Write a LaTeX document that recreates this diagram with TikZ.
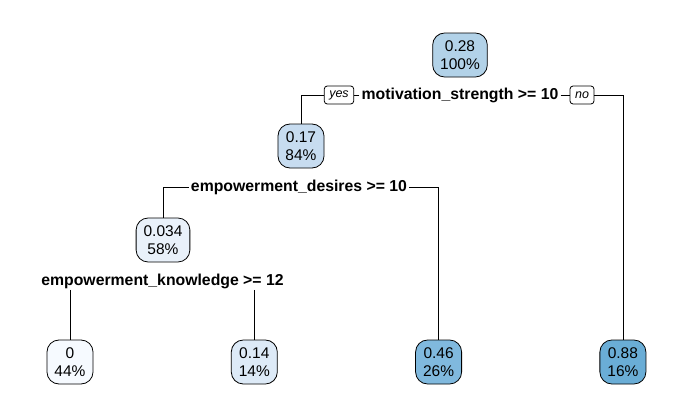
\documentclass[tikz,border=0pt]{standalone}
\usepackage{fontspec}
\setmainfont{Liberation Sans}
\definecolor{blA}{RGB}{178,210,232}
\definecolor{blB}{RGB}{199,220,240}
\definecolor{blC}{RGB}{233,241,250}
\definecolor{blD}{RGB}{246,250,255}
\definecolor{blE}{RGB}{221,234,247}
\definecolor{blF}{RGB}{128,185,222}
\definecolor{blG}{RGB}{106,173,214}

\begin{document}
\begin{tikzpicture}[x=1pt, y=-1pt, node distance={184.3pt}, line width=0.8pt,
    main/.style = {draw, rounded corners=12pt, align=center, inner xsep=7.5pt, inner ysep=2pt, minimum height=44pt, font=\fontsize{15.5}{18.5}\selectfont},
    split/.style = {fill=white, inner xsep=2pt, inner ysep=1pt, font=\fontsize{15.8}{18}\selectfont\bfseries},
    yesno/.style = {draw, fill=white, rounded corners=3pt, inner xsep=5pt, inner ysep=0pt, minimum height=18pt, font=\fontsize{12.5}{14}\selectfont\itshape}]
    \useasboundingbox (0,0) rectangle (689,415);
    \node[main, fill=blA] (R) at (460,55) {0.28\\100\%};
    \node[main, fill=blB] (N2) at (301,146) {0.17\\84\%};
    \node[main, fill=blC] (N3) at (163,240) {0.034\\58\%};
    \node[main, fill=blD] (L1) at (70,362) {0\\44\%};
    \node[main, fill=blE] (L2) [right of=L1] {0.14\\14\%};
    \node[main, fill=blF] (L3) [right of=L2] {0.46\\26\%};
    \node[main, fill=blG] (L4) [right of=L3] {0.88\\16\%};
    \node[split] (S1) at (460,95) {motivation\_strength >= 10};
    \node[split] (S2) at (299,187) {empowerment\_desires >= 10};
    \node[split] (S3) at (162.5,281) {empowerment\_knowledge >= 12};
    \node[yesno] (Y) at (339,95) {yes};
    \node[yesno] (NO) at (582,95) {no};
    \draw (S1.west)--(Y.east);
    \draw (Y.west) -| (N2.north);
    \draw (S1.east)--(NO.west);
    \draw (NO.east) -| (L4.north);
    \draw (S2.west) -| (N3.north);
    \draw (S2.east) -| (L3.north);
    \draw (S3.south -| L1.north)--(L1.north);
    \draw (S3.south -| L2.north)--(L2.north);
\end{tikzpicture}
\end{document}
